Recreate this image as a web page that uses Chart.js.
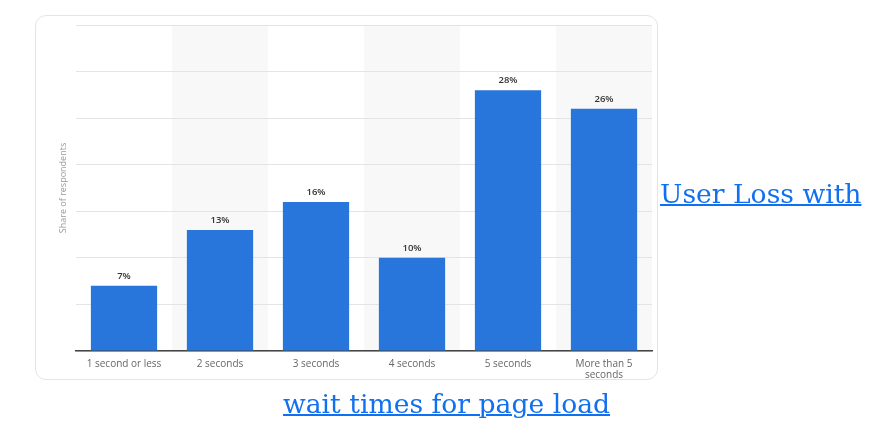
<!DOCTYPE html>
<html>
<head>
<meta charset="utf-8">
<script src="https://cdn.jsdelivr.net/npm/chart.js@4/dist/chart.umd.min.js"></script>
<style>
  html, body { margin:0; padding:0; background:#fff; width:879px; height:442px; overflow:hidden; }
  #card { position:absolute; left:35px; top:15px; width:621px; height:363px; border:1px solid #dfe6ee; border-radius:11px; background:#fff; }
  #wrap { position:absolute; left:0; top:0; width:879px; height:442px; }
  .lnk { position:absolute; font-family:"DejaVu Serif", serif; font-size:26.6px; line-height:34px; color:#1170f0; text-decoration:underline; text-decoration-thickness:1.5px; white-space:nowrap; }
</style>
</head>
<body>
<div id="card"></div>
<div id="wrap"><canvas id="c" width="879" height="442"></canvas></div>
<a class="lnk" style="left:660px; top:177px;">User Loss with</a>
<a class="lnk" style="left:283px; top:387px;">wait times for page load</a>
<script>
const categories = ["1 second or less", "2 seconds", "3 seconds", "4 seconds", "5 seconds", ["More than 5", "seconds"]];
const shares = [7, 13, 16, 10, 28, 26];
const valueLabels = ["7%", "13%", "16%", "10%", "28%", "26%"];
const yAxisTitle = "Share of respondents";

const bandPlugin = {
  id: 'bands',
  beforeDraw(chart) {
    const {ctx, chartArea, scales} = chart;
    const x = scales.x;
    const n = chart.data.labels.length;
    const w = (chartArea.right - chartArea.left) / n;
    ctx.save();
    ctx.fillStyle = '#f8f8f8';
    for (let i = 1; i < n; i += 2) {
      const cx = x.getPixelForValue(i);
      ctx.fillRect(cx - w / 2, chartArea.top, w, chartArea.bottom - chartArea.top);
    }
    ctx.restore();
  }
};

const labelPlugin = {
  id: 'vlabels',
  afterDatasetsDraw(chart) {
    const {ctx} = chart;
    const meta = chart.getDatasetMeta(0);
    ctx.save();
    ctx.font = '600 9.5px "Open Sans", sans-serif';
    ctx.fillStyle = '#333';
    ctx.textAlign = 'center';
    ctx.textBaseline = 'bottom';
    meta.data.forEach((bar, i) => {
      ctx.fillText(valueLabels[i], bar.x, bar.y - 5);
    });
    ctx.restore();
  }
};

new Chart(document.getElementById('c'), {
  type: 'bar',
  data: {
    labels: categories,
    datasets: [{
      data: shares,
      backgroundColor: '#2876dc',
      borderWidth: 0,
      barPercentage: 0.69,
      categoryPercentage: 1.0
    }]
  },
  options: {
    responsive: false,
    animation: false,
    events: [],
    layout: { padding: { left: 50, right: 227, top: 25, bottom: 51 } },
    plugins: { legend: { display: false }, tooltip: { enabled: false } },
    scales: {
      x: {
        grid: { display: false, drawTicks: false },
        border: { display: true, color: '#444', width: 1.6 },
        ticks: {
          color: '#666',
          font: { family: '"Open Sans", sans-serif', size: 10, lineHeight: 1.1 },
          padding: 8,
          maxRotation: 0,
          autoSkip: false
        },
        afterFit(axis) { axis.height = 40; }
      },
      y: {
        min: 0, max: 35,
        ticks: { display: false, stepSize: 5 },
        grid: { color: '#e4e4e4', drawTicks: false, lineWidth: 1 },
        border: { display: false },
        title: {
          display: true, text: yAxisTitle, color: '#9a9a9a',
          font: { family: '"Open Sans", sans-serif', size: 9 },
          padding: { top: 8, bottom: 0 }
        },
        afterFit(axis) { axis.width = 26; }
      }
    }
  },
  plugins: [bandPlugin, labelPlugin]
});
</script>
</body>
</html>
